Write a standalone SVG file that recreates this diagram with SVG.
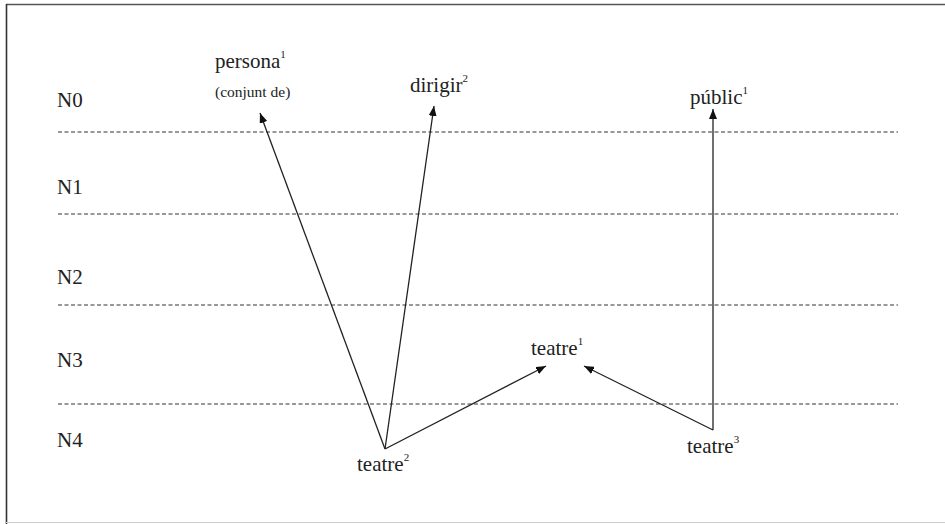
<svg xmlns="http://www.w3.org/2000/svg" width="945" height="524" viewBox="0 0 945 524">
<style>
text{font-family:'Liberation Serif','DejaVu Serif',serif;font-size:21px;fill:#222}
.s{font-size:11px}
.lvl{stroke:#333;stroke-width:1;stroke-dasharray:4,2.5;fill:none}
.c{stroke:#222;stroke-width:1.3;fill:none;marker-end:url(#ah)}
</style>
<defs>
<marker id="ah" viewBox="0 0 10 8" refX="10" refY="4" markerWidth="10" markerHeight="8" markerUnits="userSpaceOnUse" orient="auto">
<path d="M0,0 L10,4 L0,8 Z" fill="#111"/>
</marker>
</defs>
<rect width="945" height="524" fill="#fff"/>
<line x1="6" y1="4.5" x2="945" y2="4.5" stroke="#555" stroke-width="1.6"/>
<line x1="6.5" y1="4" x2="6.5" y2="524" stroke="#333" stroke-width="1.6"/>
<line x1="6" y1="522.5" x2="945" y2="522.5" stroke="#ccc" stroke-width="1.2"/>
<g id="levels">
<line class="lvl" x1="58" y1="132" x2="898" y2="132"/>
<line class="lvl" x1="58" y1="214" x2="898" y2="214"/>
<line class="lvl" x1="58" y1="305" x2="898" y2="305"/>
<line class="lvl" x1="58" y1="404" x2="898" y2="404"/>
<text x="57" y="107">N0</text>
<text x="57" y="194">N1</text>
<text x="57" y="284">N2</text>
<text x="57" y="367">N3</text>
<text x="57" y="447">N4</text>
</g>
<g id="connectors">
<line class="c" x1="385" y1="449" x2="260" y2="113"/>
<line class="c" x1="385" y1="449" x2="434" y2="106"/>
<line class="c" x1="385" y1="449" x2="546" y2="366"/>
<line class="c" x1="713" y1="430" x2="713" y2="109"/>
<line class="c" x1="713" y1="430" x2="584" y2="366"/>
</g>
<g id="persona1">
<text x="215" y="68">persona<tspan class="s" dy="-10">1</tspan></text>
<text x="215" y="97" style="font-size:15.5px">(conjunt de)</text>
</g>
<g id="dirigir2"><text x="410" y="92">dirigir<tspan class="s" dy="-10">2</tspan></text></g>
<g id="public1"><text x="690" y="104">públic<tspan class="s" dy="-10">1</tspan></text></g>
<g id="teatre1"><text x="531" y="355">teatre<tspan class="s" dy="-10">1</tspan></text></g>
<g id="teatre2"><text x="357" y="471">teatre<tspan class="s" dy="-10">2</tspan></text></g>
<g id="teatre3"><text x="687" y="453">teatre<tspan class="s" dy="-10">3</tspan></text></g>
</svg>
